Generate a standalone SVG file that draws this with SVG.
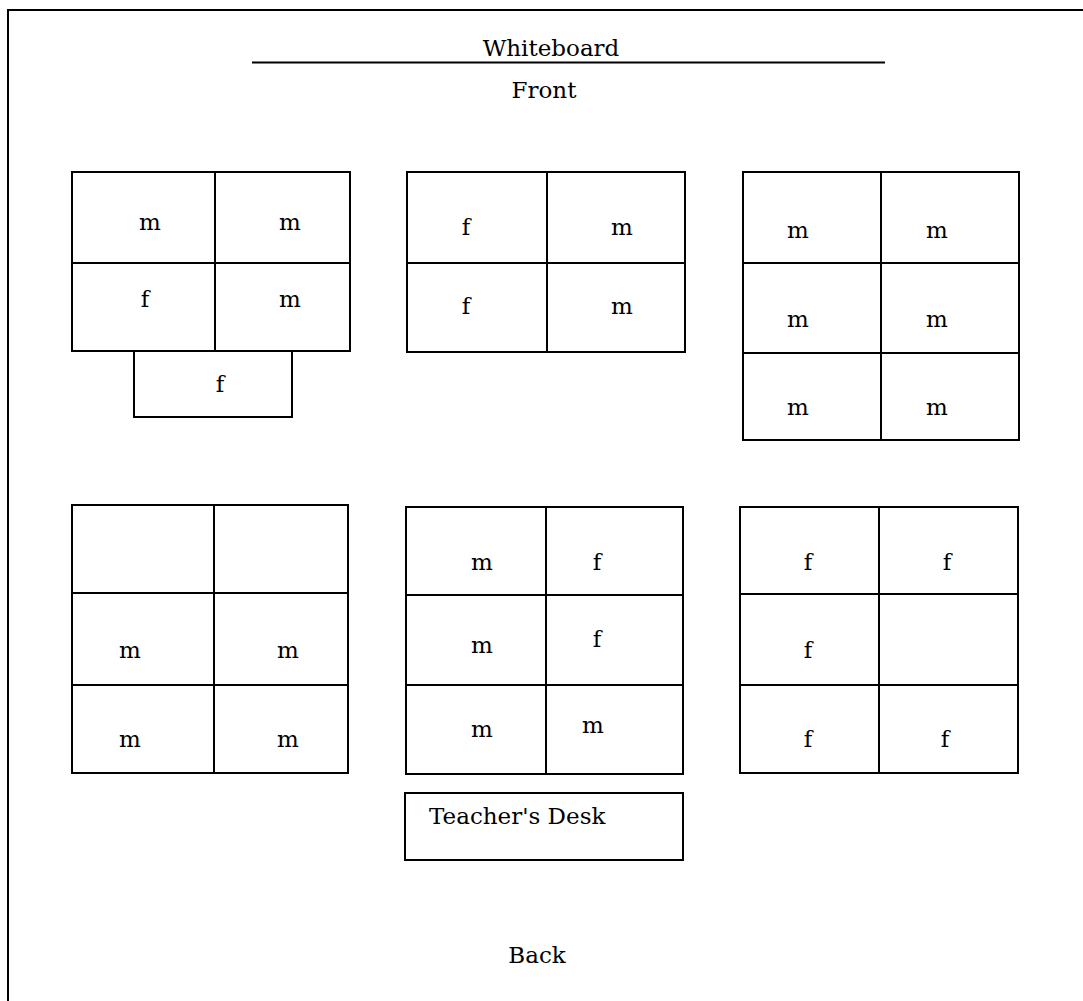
<svg xmlns="http://www.w3.org/2000/svg" width="1083" height="1001" viewBox="0 0 1083 1001">
<style>
.ln{stroke:#000;stroke-width:2;fill:none}
.bx{stroke:#000;stroke-width:2;fill:#fff}
text{font-family:"DejaVu Serif","Liberation Serif",serif;font-size:23px;fill:#000}
.c{text-anchor:middle}
</style>
<rect width="1083" height="1001" fill="#fff"/>
<g id="frame">
<polyline class="ln" points="1083,10 8,10 8,1001"/>
</g>
<g id="whiteboard">
<line class="ln" x1="252" y1="62.5" x2="885" y2="62.5"/>
<text class="c" x="551" y="56">Whiteboard</text>
<text class="c" x="544" y="98">Front</text>
</g>
<g id="table1">
<rect class="bx" x="72" y="172" width="278" height="179"/>
<line class="ln" x1="215" y1="172" x2="215" y2="351"/>
<line class="ln" x1="72" y1="263" x2="350" y2="263"/>
<rect class="bx" x="134" y="351" width="158" height="66"/>
<text class="c" x="150" y="230">m</text>
<text class="c" x="290" y="230">m</text>
<text class="c" x="145" y="307">f</text>
<text class="c" x="290" y="307">m</text>
<text class="c" x="220" y="392">f</text>
</g>
<g id="table2">
<rect class="bx" x="407" y="172" width="278" height="180"/>
<line class="ln" x1="547" y1="172" x2="547" y2="352"/>
<line class="ln" x1="407" y1="263" x2="685" y2="263"/>
<text class="c" x="466" y="235">f</text>
<text class="c" x="622" y="235">m</text>
<text class="c" x="466" y="314">f</text>
<text class="c" x="622" y="314">m</text>
</g>
<g id="table3">
<rect class="bx" x="743" y="172" width="276" height="268"/>
<line class="ln" x1="881" y1="172" x2="881" y2="440"/>
<line class="ln" x1="743" y1="263" x2="1019" y2="263"/>
<line class="ln" x1="743" y1="353" x2="1019" y2="353"/>
<text class="c" x="798" y="238">m</text>
<text class="c" x="937" y="238">m</text>
<text class="c" x="798" y="327">m</text>
<text class="c" x="937" y="327">m</text>
<text class="c" x="798" y="415">m</text>
<text class="c" x="937" y="415">m</text>
</g>
<g id="table4">
<rect class="bx" x="72" y="505" width="276" height="268"/>
<line class="ln" x1="214" y1="505" x2="214" y2="773"/>
<line class="ln" x1="72" y1="593" x2="348" y2="593"/>
<line class="ln" x1="72" y1="685" x2="348" y2="685"/>
<text class="c" x="130" y="658">m</text>
<text class="c" x="288" y="658">m</text>
<text class="c" x="130" y="747">m</text>
<text class="c" x="288" y="747">m</text>
</g>
<g id="table5">
<rect class="bx" x="406" y="507" width="277" height="267"/>
<line class="ln" x1="546" y1="507" x2="546" y2="774"/>
<line class="ln" x1="406" y1="595" x2="683" y2="595"/>
<line class="ln" x1="406" y1="685" x2="683" y2="685"/>
<text class="c" x="482" y="570">m</text>
<text class="c" x="597" y="570">f</text>
<text class="c" x="482" y="653">m</text>
<text class="c" x="597" y="647">f</text>
<text class="c" x="482" y="737">m</text>
<text class="c" x="593" y="733">m</text>
</g>
<g id="table6">
<rect class="bx" x="740" y="507" width="278" height="266"/>
<line class="ln" x1="879" y1="507" x2="879" y2="773"/>
<line class="ln" x1="740" y1="594" x2="1018" y2="594"/>
<line class="ln" x1="740" y1="685" x2="1018" y2="685"/>
<text class="c" x="808" y="570">f</text>
<text class="c" x="947" y="570">f</text>
<text class="c" x="808" y="658">f</text>
<text class="c" x="808" y="747">f</text>
<text class="c" x="945" y="747">f</text>
</g>
<g id="teacher-desk">
<rect class="bx" x="405" y="793" width="278" height="67"/>
<text x="429" y="824">Teacher's Desk</text>
</g>
<g id="back">
<text class="c" x="537" y="963">Back</text>
</g>
<g id="connectors"/>
</svg>
